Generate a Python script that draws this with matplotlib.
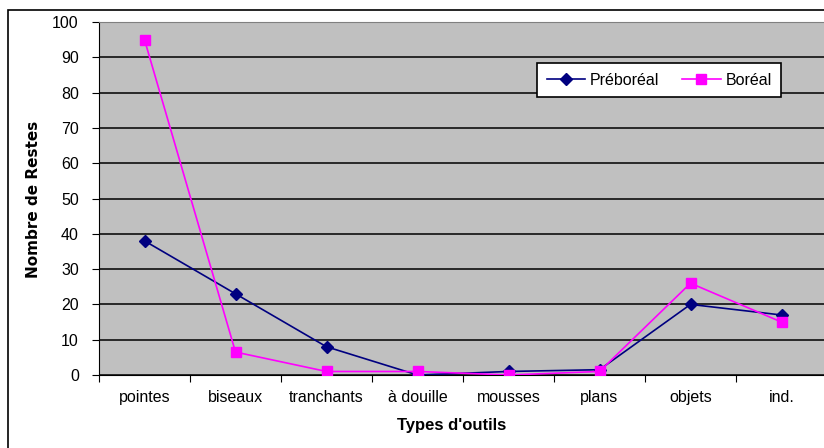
import matplotlib
matplotlib.use("Agg")
import matplotlib.pyplot as plt
from matplotlib.patches import Rectangle
import numpy as np

categories = ["pointes", "biseaux", "tranchants", "à douille", "mousses", "plans", "objets", "ind."]
preboreal = [38, 23, 8, 0, 1, 1.5, 20, 17]
boreal = [95, 6.5, 1, 1, 0, 1, 26, 15]
yticks = [0, 10, 20, 30, 40, 50, 60, 70, 80, 90, 100]

W, H = 824, 448
fig = plt.figure(figsize=(W / 100, H / 100), dpi=100)
plt.rcParams['font.family'] = ['Liberation Sans', 'DejaVu Sans']

# outer frame
fig.patches.append(Rectangle((8 / W, -0.1), 2, (H - 10) / H + 0.1, transform=fig.transFigure,
                             fill=False, edgecolor='black', linewidth=1.2))

left, right, top, bottom = 99, 827, 22, 375
ax = fig.add_axes([left / W, 1 - bottom / H, (right - left) / W, (bottom - top) / H])
ax.set_facecolor('#c0c0c0')
x = np.arange(len(categories))
ax.set_xlim(-0.5, len(categories) - 0.5)
ax.set_ylim(0, 100)
ax.set_yticks(yticks)
ax.yaxis.grid(True, color='black', linewidth=1.1)
ax.set_axisbelow(True)
ax.spines['right'].set_visible(False)
ax.spines['top'].set_color('#808080')
ax.spines['left'].set_color('black')
ax.spines['bottom'].set_color('black')

ax.plot(x, preboreal, color='#000080', marker='D', markersize=6, linewidth=1.2, label='Préboréal', zorder=3)
ax.plot(x, boreal, color='#ff00ff', marker='s', markersize=7, linewidth=1.2, label='Boréal', zorder=3)

ax.set_xticks(np.arange(len(categories) + 1) - 0.5)
ax.set_xticklabels([])
ax.set_xticks(x, minor=True)
ax.set_xticklabels(categories, minor=True, fontsize=11.5)
ax.tick_params(axis='x', which='major', direction='out', length=5, color='black')
ax.tick_params(axis='x', which='minor', length=0, pad=11)
ax.tick_params(axis='y', direction='out', length=5, labelsize=11.5, pad=9.5)

fig.text(452 / W, 1 - 425 / H, "Types d'outils", fontsize=12, fontweight='bold', ha='center', va='center')
fig.text(34 / W, 1 - 199 / H, "Nombre de Restes", fontsize=11, fontweight='bold', family='DejaVu Sans',
         rotation=90, ha='center', va='center')

leg = ax.legend(loc='upper left', bbox_to_anchor=((537 - left) / (right - left), 1 - (63 - top) / (bottom - top)),
                ncol=2, frameon=True, fancybox=False, fontsize=11.5, edgecolor='black',
                borderpad=0.6, borderaxespad=0, columnspacing=1.45, handlelength=2.4, handletextpad=0.3)
leg.get_frame().set_linewidth(1.2)
leg.get_frame().set_facecolor('white')
leg.get_frame().set_alpha(1)

fig.savefig('out.png', dpi=100)
